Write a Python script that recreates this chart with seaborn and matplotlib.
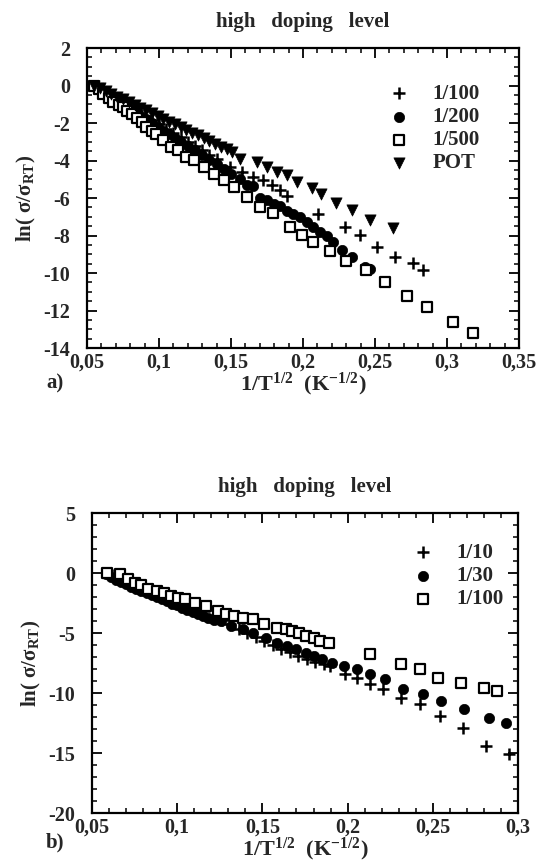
import pandas as pd
import seaborn as sns
import matplotlib.pyplot as plt
from matplotlib.ticker import MultipleLocator, FuncFormatter

# ---- panel a) data: 1/100, 1/200, 1/500, POT ----
a_100_x = [0.055, 0.060, 0.065, 0.070, 0.075, 0.080, 0.085, 0.090, 0.095, 0.100, 0.105, 0.110,
           0.115, 0.120, 0.125, 0.130, 0.135, 0.140, 0.1493, 0.1574, 0.1655, 0.1724, 0.1783,
           0.184, 0.1887, 0.2106, 0.2292, 0.2396, 0.2512, 0.2639, 0.2766, 0.2836]
a_100_y = [0.0, -0.23, -0.46, -0.69, -0.92, -1.15, -1.38, -1.61, -1.84, -2.07, -2.30, -2.53,
           -2.76, -2.99, -3.22, -3.45, -3.68, -3.91, -4.34, -4.61, -4.88, -5.05, -5.32,
           -5.59, -5.90, -6.83, -7.54, -7.98, -8.60, -9.13, -9.49, -9.84]

a_200_x = [0.055, 0.059, 0.063, 0.067, 0.071, 0.075, 0.079, 0.083, 0.087, 0.091, 0.095, 0.099,
           0.103, 0.107, 0.111, 0.115, 0.120, 0.125, 0.130, 0.135, 0.140, 0.145, 0.150, 0.156,
           0.161, 0.165, 0.170, 0.175, 0.180, 0.184, 0.189, 0.193, 0.198, 0.203, 0.207, 0.212,
           0.217, 0.221, 0.227, 0.234, 0.243, 0.2465]
a_200_y = [0.0, -0.2, -0.4, -0.6, -0.8, -1.0, -1.2, -1.4, -1.6, -1.8, -2.0, -2.2,
           -2.4, -2.6, -2.8, -3.0, -3.2, -3.45, -3.7, -3.95, -4.2, -4.45, -4.7, -5.0,
           -5.3, -5.35, -6.0, -6.1, -6.3, -6.4, -6.7, -6.85, -7.0, -7.3, -7.54, -7.8,
           -8.05, -8.34, -8.78, -9.13, -9.66, -9.78]

a_500_x = [0.055, 0.058, 0.061, 0.065, 0.068, 0.072, 0.075, 0.078, 0.081, 0.085, 0.088, 0.091,
           0.095, 0.098, 0.103, 0.108, 0.113, 0.119, 0.124, 0.131, 0.138, 0.145, 0.152, 0.161,
           0.170, 0.179, 0.191, 0.199, 0.207, 0.219, 0.230, 0.244, 0.257, 0.272, 0.286, 0.304,
           0.318]
a_500_y = [0.0, -0.2, -0.44, -0.65, -0.89, -1.05, -1.15, -1.35, -1.5, -1.75, -1.95, -2.22,
           -2.4, -2.57, -2.93, -3.28, -3.46, -3.81, -3.99, -4.35, -4.70, -5.05, -5.41, -5.94,
           -6.47, -6.82, -7.54, -7.98, -8.34, -8.80, -9.35, -9.86, -10.5, -11.25, -11.82, -12.63,
           -13.2]

a_pot_x = [0.055, 0.059, 0.063, 0.067, 0.071, 0.075, 0.079, 0.083, 0.087, 0.091, 0.095, 0.099,
           0.103, 0.107, 0.111, 0.115, 0.119, 0.123, 0.127, 0.131, 0.135, 0.139, 0.143, 0.147,
           0.151, 0.1563, 0.1678, 0.1748, 0.1817, 0.1887, 0.1956, 0.2066, 0.2124, 0.2229,
           0.2338, 0.2465, 0.2627]
a_pot_y = [0.0, -0.15, -0.30, -0.44, -0.59, -0.74, -0.89, -1.04, -1.18, -1.33, -1.48, -1.63,
           -1.78, -1.92, -2.07, -2.22, -2.37, -2.52, -2.66, -2.81, -2.96, -3.11, -3.26, -3.40,
           -3.55, -3.90, -4.08, -4.35, -4.61, -4.79, -5.14, -5.49, -5.76, -6.29,
           -6.65, -7.18, -7.62]

# ---- panel b) data: 1/10, 1/30, 1/100 ----
b_10_x = [0.062, 0.066, 0.070, 0.074, 0.078, 0.082, 0.086, 0.090, 0.094, 0.098, 0.102, 0.106,
          0.111, 0.116, 0.121, 0.126, 0.131, 0.136, 0.141, 0.146, 0.151, 0.156, 0.161, 0.166,
          0.171, 0.176, 0.181, 0.186, 0.1899, 0.1986, 0.2054, 0.2132, 0.2209, 0.2316, 0.2423,
          0.254, 0.2675, 0.2812, 0.2948]
b_10_y = [-0.2, -0.4, -0.65, -0.85, -1.1, -1.3, -1.55, -1.75, -1.95, -2.15, -2.4, -2.6,
          -2.9, -3.2, -3.55, -3.9, -4.25, -4.65, -5.0, -5.3, -5.65, -6.0, -6.3, -6.6,
          -6.9, -7.15, -7.4, -7.6, -7.75, -8.44, -8.72, -9.28, -9.69, -10.39, -10.94,
          -11.92, -12.89, -14.42, -15.11]

b_30_x = [0.058, 0.061, 0.064, 0.067, 0.070, 0.073, 0.076, 0.079, 0.082, 0.085, 0.088, 0.091,
          0.094, 0.097, 0.100, 0.103, 0.106, 0.109, 0.112, 0.115, 0.118, 0.1215, 0.1258, 0.1316,
          0.1384, 0.1442, 0.152, 0.1588, 0.1646, 0.1695, 0.1753, 0.1801, 0.185, 0.1908, 0.1976,
          0.2054, 0.2132, 0.2219, 0.2326, 0.2442, 0.2549, 0.2685, 0.2831, 0.2928]
b_30_y = [-0.1, -0.35, -0.55, -0.75, -0.95, -1.15, -1.35, -1.5, -1.7, -1.85, -2.0, -2.2,
          -2.35, -2.55, -2.7, -2.9, -3.05, -3.25, -3.4, -3.6, -3.75, -3.9, -4.0, -4.42,
          -4.69, -4.97, -5.39, -5.81, -6.08, -6.36, -6.64, -6.92, -7.19, -7.47, -7.75,
          -8.03, -8.44, -8.86, -9.69, -10.11, -10.67, -11.36, -12.06, -12.47]

b_100_x = [0.0587, 0.0665, 0.071, 0.075, 0.079, 0.083, 0.0879, 0.092, 0.0966, 0.1005, 0.1044,
           0.1102, 0.117, 0.1238, 0.1287, 0.1335, 0.1384, 0.1442, 0.151, 0.1588, 0.1636, 0.1675,
           0.1714, 0.1753, 0.1801, 0.184, 0.1889, 0.2132, 0.2316, 0.2423, 0.253, 0.2666, 0.2802,
           0.2879]
b_100_y = [0.0, -0.1, -0.5, -0.8, -1.0, -1.36, -1.5, -1.7, -1.92, -2.05, -2.19,
           -2.47, -2.75, -3.17, -3.44, -3.58, -3.73, -3.86, -4.28, -4.56, -4.69, -4.83,
           -4.98, -5.25, -5.39, -5.67, -5.81, -6.78, -7.61, -8.03, -8.72, -9.14, -9.56,
           -9.83]

TITLE = "high   doping   level"
XLABEL = r"1/T$^{1/2}$  (K$^{-1/2}$)"
YLABEL = r"ln( $\sigma$/$\sigma_{\rm RT}$)"

sns.set_theme(style="ticks")
plt.rcParams["font.family"] = ["Liberation Serif", "DejaVu Serif"]
plt.rcParams["font.weight"] = "bold"
plt.rcParams["axes.unicode_minus"] = False
plt.rcParams["mathtext.fontset"] = "custom"
plt.rcParams["mathtext.rm"] = "Liberation Serif:bold"
plt.rcParams["mathtext.it"] = "Liberation Serif:bold"
plt.rcParams["mathtext.bf"] = "Liberation Serif:bold"
plt.rcParams["mathtext.default"] = "rm"

comma = FuncFormatter(lambda v, p: f"{v:g}".replace(".", ","))
plain = FuncFormatter(lambda v, p: f"{v:g}")


def style_axes(ax, xlim, ylim, ymajor, yminor):
    ax.set_xlim(*xlim)
    ax.set_ylim(*ylim)
    ax.xaxis.set_major_locator(MultipleLocator(0.05))
    ax.xaxis.set_minor_locator(MultipleLocator(0.01))
    ax.yaxis.set_major_locator(MultipleLocator(ymajor))
    ax.yaxis.set_minor_locator(MultipleLocator(yminor))
    ax.xaxis.set_major_formatter(comma)
    ax.yaxis.set_major_formatter(plain)
    ax.tick_params(which="both", direction="in", top=True, right=True, color="black")
    ax.tick_params(which="major", length=7, width=1.3, labelsize=14.5, pad=3)
    ax.tick_params(which="minor", length=3.5, width=1.1)
    ax.tick_params(axis="y", which="major", pad=12)
    for s in ax.spines.values():
        s.set_linewidth(1.6)
        s.set_color("black")
    ax.set_title(TITLE, fontsize=15, fontweight="bold", pad=15)
    ax.set_xlabel(XLABEL, fontsize=16, fontweight="bold", labelpad=-1)
    ax.set_ylabel(YLABEL, fontsize=15, fontweight="bold", labelpad=4)


def add_points(ax, x, y, kind, label):
    df = pd.DataFrame({"x": x, "y": y})
    if kind == "plus":
        sns.scatterplot(data=df, x="x", y="y", ax=ax, marker="+", color="black",
                        s=75, linewidth=1.8, label=label)
    elif kind == "dot":
        sns.scatterplot(data=df, x="x", y="y", ax=ax, marker="o", color="black",
                        edgecolor="black", s=55, linewidth=0.5, label=label)
    elif kind == "square":
        sns.scatterplot(data=df, x="x", y="y", ax=ax, marker="s", color="white",
                        edgecolor="black", s=42, linewidth=1.6, label=label)
    else:
        sns.scatterplot(data=df, x="x", y="y", ax=ax, marker="v", color="black",
                        edgecolor="black", s=65, linewidth=0.5, label=label)


fig = plt.figure(figsize=(5.53, 8.64), dpi=100)
ax1 = fig.add_axes([0.1573, 0.5972, 0.7812, 0.3472])
ax2 = fig.add_axes([0.1664, 0.0590, 0.7703, 0.3472])

add_points(ax1, a_100_x, a_100_y, "plus", "1/100")
add_points(ax1, a_200_x, a_200_y, "dot", "1/200")
add_points(ax1, a_500_x, a_500_y, "square", "1/500")
add_points(ax1, a_pot_x, a_pot_y, "tri", "POT")
style_axes(ax1, (0.05, 0.35), (-14, 2), 2, 0.5)
ax1.legend(loc="upper left", bbox_to_anchor=(0.673, 0.915), frameon=False, borderpad=0,
           handlelength=1.0, handletextpad=1.13, labelspacing=0.15,
           prop={"weight": "bold", "size": 15})

add_points(ax2, b_30_x, b_30_y, "dot", "1/30")
add_points(ax2, b_10_x, b_10_y, "plus", "1/10")
add_points(ax2, b_100_x, b_100_y, "square", "1/100")
style_axes(ax2, (0.05, 0.3), (-20, 5), 5, 1)
handles, labels = ax2.get_legend_handles_labels()
order = [labels.index(k) for k in ["1/10", "1/30", "1/100"]]
ax2.legend([handles[i] for i in order], [labels[i] for i in order],
           loc="upper left", bbox_to_anchor=(0.727, 0.935), frameon=False, borderpad=0,
           handlelength=1.0, handletextpad=1.13, labelspacing=0.15,
           prop={"weight": "bold", "size": 15})

fig.text(0.083, 0.556, "a)", fontsize=15, fontweight="bold", va="center")
fig.text(0.083, 0.025, "b)", fontsize=15, fontweight="bold", va="center")

fig.savefig("out.png", dpi=100)
